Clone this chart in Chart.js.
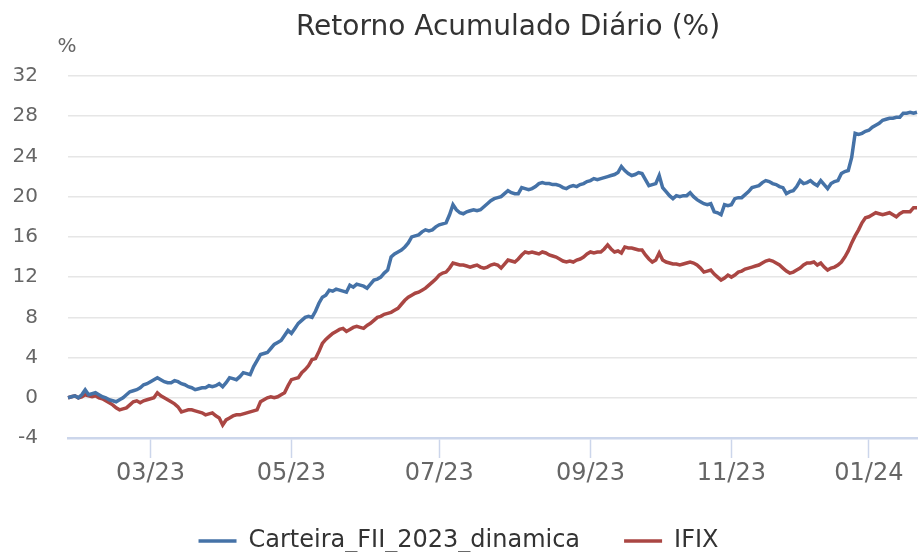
<!DOCTYPE html>
<html>
<head>
<meta charset="utf-8">
<script src="https://cdn.jsdelivr.net/npm/chart.js@4.4.0/dist/chart.umd.min.js"></script>
<style>
  html, body { margin: 0; padding: 0; background: #fff; }
  #wrap { width: 918px; height: 552px; }
</style>
</head>
<body>
<div id="wrap"><canvas id="chart-retorno" width="918" height="552"></canvas></div>
<script>
// trading days (B3) from first to last day of the series
var startDate = '2023-01-24';
var endDate = '2024-01-22';
var holidays = ['2023-02-20', '2023-02-21', '2023-04-07', '2023-04-21', '2023-05-01',
    '2023-06-08', '2023-09-07', '2023-10-12', '2023-11-02', '2023-11-15',
    '2023-12-25', '2024-01-01'];

var seriesNames = ['Carteira_FII_2023_dinamica', 'IFIX'];
var seriesColors = ['#4572A7', '#AA4643'];

// retorno acumulado (%), one value per trading day
var carteira = [
    0.0, 0.1, 0.2, 0.0, 0.3, 0.8, 0.3, 0.4, 0.5, 0.3,
    0.1, 0.0, -0.2, -0.3, -0.4, -0.2, 0.0, 0.3, 0.6, 0.7,
    0.8, 1.0, 1.3, 1.4, 1.6, 1.8, 2.0, 1.8, 1.6, 1.5,
    1.5, 1.7, 1.6, 1.4, 1.3, 1.1, 1.0, 0.8, 0.9, 1.0,
    1.0, 1.2, 1.1, 1.2, 1.4, 1.1, 1.5, 2.0, 1.9, 1.8,
    2.1, 2.5, 2.4, 2.3, 3.1, 3.7, 4.3, 4.4, 4.5, 4.9,
    5.3, 5.5, 5.7, 6.2, 6.7, 6.4, 6.9, 7.4, 7.7, 8.0,
    8.1, 8.0, 8.6, 9.4, 10.0, 10.2, 10.7, 10.6, 10.8, 10.7,
    10.6, 10.5, 11.2, 11.0, 11.3, 11.2, 11.1, 10.9, 11.3, 11.7,
    11.8, 12.0, 12.4, 12.7, 14.0, 14.3, 14.5, 14.7, 15.0, 15.4,
    16.0, 16.1, 16.2, 16.5, 16.7, 16.6, 16.7, 17.0, 17.2, 17.3,
    17.4, 18.2, 19.2, 18.7, 18.4, 18.3, 18.5, 18.6, 18.7, 18.6,
    18.7, 19.0, 19.3, 19.6, 19.8, 19.9, 20.0, 20.3, 20.6, 20.4,
    20.3, 20.3, 20.9, 20.8, 20.7, 20.8, 21.0, 21.3, 21.4, 21.3,
    21.3, 21.2, 21.2, 21.1, 20.9, 20.8, 21.0, 21.1, 21.0, 21.2,
    21.3, 21.5, 21.6, 21.8, 21.7, 21.8, 21.9, 22.0, 22.1, 22.2,
    22.4, 23.0, 22.6, 22.3, 22.1, 22.2, 22.4, 22.3, 21.7, 21.1,
    21.2, 21.3, 22.1, 20.9, 20.5, 20.1, 19.8, 20.1, 20.0, 20.1,
    20.1, 20.4, 20.0, 19.7, 19.5, 19.3, 19.2, 19.3, 18.5, 18.4,
    18.2, 19.2, 19.1, 19.2, 19.8, 19.9, 19.9, 20.2, 20.5, 20.9,
    21.0, 21.1, 21.4, 21.6, 21.5, 21.3, 21.2, 21.0, 20.9, 20.3,
    20.5, 20.6, 21.0, 21.6, 21.3, 21.4, 21.6, 21.3, 21.1, 21.6,
    21.2, 20.8, 21.3, 21.5, 21.6, 22.3, 22.5, 22.6, 23.9, 26.3,
    26.2, 26.3, 26.5, 26.6, 26.9, 27.1, 27.3, 27.6, 27.7, 27.8,
    27.8, 27.9, 27.9, 28.3, 28.3, 28.4, 28.3, 28.4
];

var ifix = [
    0.0, 0.1, 0.2, 0.0, 0.1, 0.3, 0.2, 0.1, 0.2, 0.0,
    -0.1, -0.3, -0.5, -0.7, -1.0, -1.2, -1.1, -1.0, -0.7, -0.4,
    -0.3, -0.5, -0.3, -0.2, -0.1, 0.0, 0.5, 0.2, 0.0, -0.2,
    -0.4, -0.6, -0.9, -1.4, -1.3, -1.2, -1.2, -1.3, -1.4, -1.5,
    -1.7, -1.6, -1.5, -1.8, -2.0, -2.7, -2.2, -2.0, -1.8, -1.7,
    -1.7, -1.6, -1.5, -1.4, -1.3, -1.2, -0.4, -0.2, 0.0, 0.1,
    0.0, 0.1, 0.3, 0.5, 1.2, 1.8, 1.9, 2.0, 2.5, 2.8,
    3.2, 3.8, 3.9, 4.6, 5.4, 5.8, 6.1, 6.4, 6.6, 6.8,
    6.9, 6.6, 6.8, 7.0, 7.1, 7.0, 6.9, 7.2, 7.4, 7.7,
    8.0, 8.1, 8.3, 8.4, 8.5, 8.7, 8.9, 9.3, 9.7, 10.0,
    10.2, 10.4, 10.5, 10.7, 10.9, 11.2, 11.5, 11.8, 12.2, 12.4,
    12.5, 12.9, 13.4, 13.3, 13.2, 13.2, 13.1, 13.0, 13.1, 13.2,
    13.0, 12.9, 13.0, 13.2, 13.3, 13.2, 12.9, 13.3, 13.7, 13.6,
    13.5, 13.8, 14.2, 14.5, 14.4, 14.5, 14.4, 14.3, 14.5, 14.4,
    14.2, 14.1, 14.0, 13.8, 13.6, 13.5, 13.6, 13.5, 13.7, 13.8,
    14.0, 14.3, 14.5, 14.4, 14.5, 14.5, 14.8, 15.2, 14.8, 14.5,
    14.6, 14.4, 15.0, 14.9, 14.9, 14.8, 14.7, 14.7, 14.2, 13.8,
    13.5, 13.7, 14.4, 13.7, 13.5, 13.4, 13.3, 13.3, 13.2, 13.3,
    13.4, 13.5, 13.4, 13.2, 12.9, 12.5, 12.6, 12.7, 12.3, 12.0,
    11.7, 11.9, 12.2, 12.0, 12.2, 12.5, 12.6, 12.8, 12.9, 13.0,
    13.1, 13.2, 13.4, 13.6, 13.7, 13.6, 13.4, 13.2, 12.9, 12.6,
    12.4, 12.5, 12.7, 12.9, 13.2, 13.4, 13.4, 13.5, 13.2, 13.4,
    13.0, 12.7, 12.9, 13.0, 13.2, 13.5, 14.0, 14.6, 15.4, 16.1,
    16.7, 17.4, 17.9, 18.0, 18.2, 18.4, 18.3, 18.2, 18.3, 18.4,
    18.2, 18.0, 18.3, 18.5, 18.5, 18.5, 18.9, 18.9
];

var yTicks = { min: -4, max: 32, step: 4 };

function pad2(n) { return (n < 10 ? '0' : '') + n; }

var dates = [];
var d = new Date(startDate + 'T12:00:00Z');
var last = new Date(endDate + 'T12:00:00Z');
while (d <= last) {
    var s = d.getUTCFullYear() + '-' + pad2(d.getUTCMonth() + 1) + '-' + pad2(d.getUTCDate());
    var wd = d.getUTCDay();
    if (wd != 0 && wd != 6 && holidays.indexOf(s) < 0) dates.push(s);
    d.setUTCDate(d.getUTCDate() + 1);
}

// first trading day of odd months gets a tick
function isTickDay(i) {
    if (i == 0) return false;
    var m = dates[i].substr(5, 2), pm = dates[i - 1].substr(5, 2);
    return m != pm && parseInt(m, 10) % 2 == 1;
}

var titlePlugin = {
    id: 'titleAndUnit',
    afterDraw: function(chart) {
        var ctx = chart.ctx;
        ctx.save();
        ctx.fillStyle = '#333333';
        ctx.font = '28px "DejaVu Sans"';
        ctx.textAlign = 'center';
        ctx.textBaseline = 'middle';
        ctx.fillText('Retorno Acumulado Diário (%)', 508, 28);
        ctx.fillStyle = '#666666';
        ctx.font = '20px "DejaVu Sans"';
        ctx.fillText('%', 67, 47);
        ctx.restore();
    }
};

Chart.defaults.font.family = '"DejaVu Sans", sans-serif';

var config_retorno = {
    type: 'line',
    data: {
        labels: dates,
        datasets: [{
            label: seriesNames[0],
            data: carteira,
            borderColor: seriesColors[0],
            backgroundColor: seriesColors[0],
            borderWidth: 3.5,
            pointRadius: 0,
            tension: 0
        }, {
            label: seriesNames[1],
            data: ifix,
            borderColor: seriesColors[1],
            backgroundColor: seriesColors[1],
            borderWidth: 3.5,
            pointRadius: 0,
            tension: 0
        }]
    },
    options: {
        responsive: false,
        animation: false,
        layout: { padding: { top: 76, right: 1, left: 0, bottom: -11 } },
        plugins: {
            title: { display: false },
            tooltip: { enabled: false },
            legend: {
                position: 'bottom',
                labels: {
                    usePointStyle: true,
                    pointStyle: 'line',
                    pointStyleWidth: 38,
                    padding: 44,
                    color: '#333333',
                    font: { size: 24 }
                }
            }
        },
        scales: {
            x: {
                type: 'category',
                offset: false,
                afterBuildTicks: function(axis) {
                    axis.ticks = axis.ticks.filter(function(t) { return isTickDay(t.value); });
                },
                afterFit: function(axis) { axis.height = 47; },
                grid: {
                    drawOnChartArea: false,
                    drawTicks: true,
                    tickLength: 20,
                    tickColor: '#ccd6eb',
                    tickWidth: 1.5
                },
                border: { display: true, color: '#ccd6eb', width: 2.5 },
                ticks: {
                    autoSkip: false,
                    maxRotation: 0,
                    padding: 1,
                    color: '#666666',
                    font: { size: 24 },
                    callback: function(value) {
                        var s = dates[value];
                        return s.substr(5, 2) + '/' + s.substr(2, 2);
                    }
                }
            },
            y: {
                min: yTicks.min,
                max: yTicks.max,
                afterFit: function(axis) { axis.width = 68; },
                grid: { color: '#e6e6e6', lineWidth: 1.5, drawTicks: false },
                border: { display: false },
                ticks: {
                    stepSize: yTicks.step,
                    padding: 30,
                    color: '#666666',
                    font: { size: 20 }
                }
            }
        }
    },
    plugins: [titlePlugin]
};

window.onload = function() {
    var ctx = document.getElementById('chart-retorno').getContext('2d');
    window.myLine = new Chart(ctx, config_retorno);
};
</script>
</body>
</html>
